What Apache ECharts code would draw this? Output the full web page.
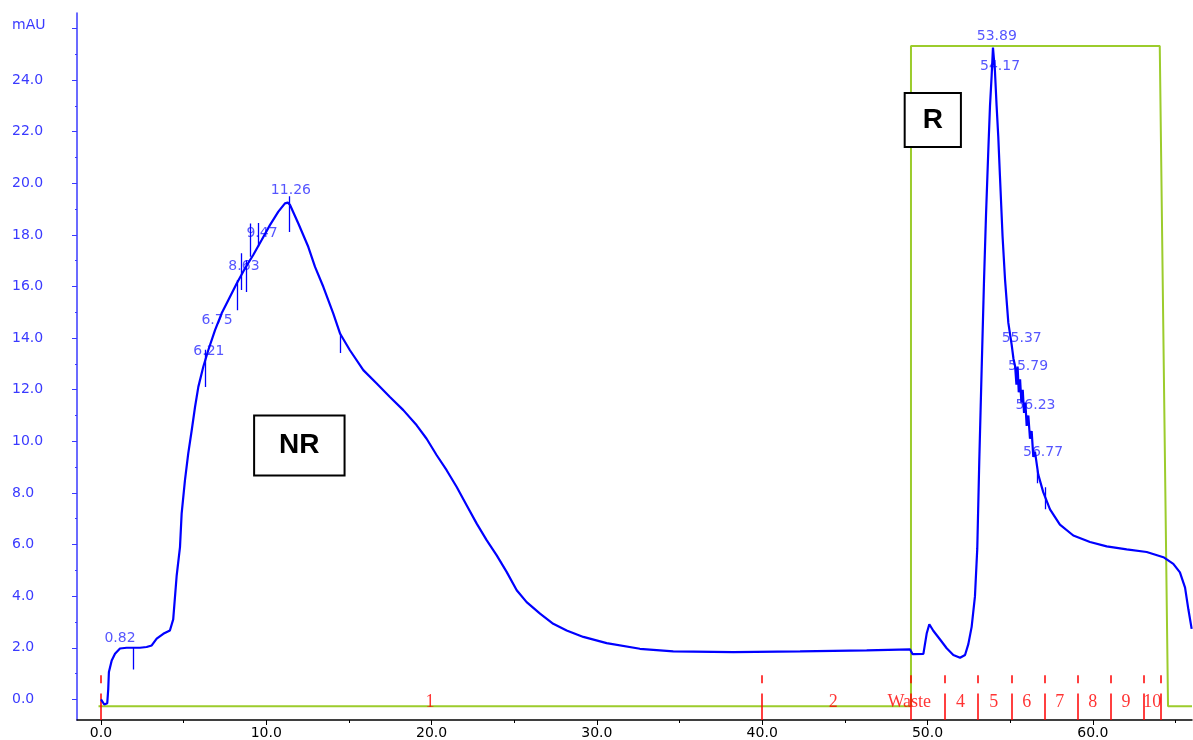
<!DOCTYPE html>
<html>
<head>
<meta charset="utf-8">
<script src="https://cdn.jsdelivr.net/npm/echarts@6/dist/echarts.min.js"></script>
<style>
html,body{margin:0;padding:0;background:#fff;}
#chart{width:1193px;height:740px;}
</style>
</head>
<body>
<div id="chart"></div>
<script>
// ---- Data ----
// Elution volume / time (x) and absorbance mAU (y) of the UV trace
const traceX = [0.0,0.2,0.38,0.44,0.48,0.65,0.85,1.15,1.55,2.36,2.76,3.07,3.37,3.77,4.17,4.37,4.58,4.78,4.88,5.08,5.28,5.49,5.69,5.89,6.19,6.49,6.9,7.3,7.7,8.21,8.71,9.21,9.72,10.22,10.73,11.13,11.3,11.43,11.94,12.54,12.95,13.45,14.05,14.46,15.06,15.87,16.68,17.48,18.29,19.1,19.7,20.31,20.91,21.52,22.12,22.73,23.33,23.94,24.54,25.15,25.75,26.56,27.36,28.17,29.18,30.59,32.6,34.62,38.25,42.29,46.32,48.94,49.1,49.75,49.95,50.11,50.35,50.76,51.16,51.56,51.97,52.27,52.47,52.67,52.87,53.01,53.13,53.28,53.42,53.54,53.68,53.78,53.88,53.96,54.08,54.18,54.28,54.38,54.54,54.69,54.89,55.09,55.2,55.3,55.38,55.45,55.52,55.6,55.68,55.76,55.84,55.92,56.0,56.1,56.2,56.3,56.4,56.5,56.7,57.0,57.41,58.01,58.82,59.83,60.84,62.05,63.26,64.27,64.87,65.27,65.58,65.78,65.98];
const traceY = [0.0,-0.2,-0.15,0.4,1.06,1.51,1.77,1.97,2.0,2.0,2.03,2.09,2.35,2.54,2.67,3.1,4.8,5.9,7.2,8.49,9.53,10.43,11.33,12.11,12.89,13.53,14.31,14.96,15.47,16.12,16.7,17.22,17.8,18.38,18.9,19.22,19.25,19.17,18.44,17.54,16.76,15.99,14.96,14.18,13.53,12.76,12.24,11.72,11.21,10.62,10.1,9.46,8.88,8.23,7.52,6.81,6.17,5.58,4.94,4.23,3.77,3.32,2.93,2.67,2.42,2.18,1.96,1.86,1.83,1.86,1.9,1.94,1.75,1.76,2.55,2.91,2.66,2.32,1.98,1.72,1.61,1.72,2.14,2.81,3.99,5.84,9.2,12.91,16.27,18.79,21.31,23.0,24.17,25.26,24.34,23.0,21.82,20.31,17.95,16.27,14.59,13.75,13.2,12.91,12.2,12.9,11.9,12.4,11.5,12.0,11.1,11.5,10.6,11.0,10.1,10.4,9.4,9.6,8.71,8.03,7.36,6.77,6.35,6.1,5.93,5.81,5.71,5.51,5.25,4.92,4.33,3.49,2.73];

// Green gradient / program trace (step)
const stepX = [-0.15,49.0,49.0,64.05,64.55,66.0];
const stepY = [-0.27,-0.27,25.32,25.32,-0.27,-0.27];

// Peak labels (text, x, y)
const peakText = ['0.82','6.21','6.75','8.63','9.47','11.26','53.89','54.17','55.37','55.79','56.23','56.77'];
const peakLabelX = [1.15,6.53,7.02,8.65,9.74,11.49,54.19,54.39,55.70,56.08,56.53,56.99];
const peakLabelY = [2.37,13.49,14.70,16.79,18.07,19.74,25.71,24.52,13.99,12.89,11.40,9.59];

// Peak marker ticks (x, yTop, yBottom)
const markX = [1.96,6.29,8.23,8.51,8.81,9.01,9.52,11.39,14.46,56.62,57.10];
const markTop = [2.0,13.55,16.25,17.29,17.02,18.44,18.46,19.5,14.19,8.88,8.22];
const markBot = [1.16,12.11,15.08,15.86,15.79,17.15,17.54,18.11,13.42,8.38,7.37];

// Fractions
const fractionEdges = [0,40.0,49.0,51.05,53.05,55.1,57.1,59.1,61.1,63.1,64.1];
const fractionNames = ['1','2','Waste','4','5','6','7','8','9','10'];
const fractionLabelX = [19.9,44.3,48.9,52.0,54.0,56.0,58.0,60.0,62.0,63.6];

// Region annotations
const regionNames = ['NR','R'];
const regionX = [12.0,50.32];
const regionY = [9.84,22.45];

// Axis ticks
const yLabelValues = [0,2,4,6,8,10,12,14,16,18,20,22,24,26];
const yMinorValues = [1,3,5,7,9,11,13,15,17,19,21,23,25];
const xLabelValues = [0,10,20,30,40,50,60];
const xMinorValues = [5,15,25,35,45,55,65];

// ---- Build ----
const X_MIN = -1.45, X_MAX = 66, Y_MIN = -0.8, Y_MAX = 26.6;
const blue = '#0000ff';
const axisBlue = '#3a3aff';
const red = '#ff0000';

const trace = traceX.map((x,i)=>[x,traceY[i]]);
const step = stepX.map((x,i)=>[x,stepY[i]]);
const peaks = peakText.map((t,i)=>({value:[peakLabelX[i],peakLabelY[i]], name:t}));
const marks = markX.map((x,i)=>({coords:[[x,markTop[i]],[x,markBot[i]]]}));
const fracLow = [], fracHigh = [];
fractionEdges.forEach(x=>{
  fracLow.push({coords:[[x,Y_MIN],[x,0.23]]});
  fracHigh.push({coords:[[x,0.62],[x,0.93]]});
});
const fracLabels = fractionNames.map((n,i)=>({value:[fractionLabelX[i],-0.12], name:n}));
const regionPadding = [[12,24,12,24],[9,17,9,17]];
const regions = regionNames.map((n,i)=>({value:[regionX[i],regionY[i]], name:n,
  label:{padding:regionPadding[i]}}));

const chart = echarts.init(document.getElementById('chart'), null, {renderer:'canvas'});
const baseFont = 'DejaVu Sans';
chart.setOption({
  animation:false,
  backgroundColor:'#fff',
  grid:{left:77,right:1,top:13,bottom:20,containLabel:false},
  xAxis:[{
    type:'value',min:X_MIN,max:X_MAX,
    axisLine:{show:true,onZero:false,lineStyle:{color:'#000',width:1.5}},
    axisTick:{show:true,length:5,customValues:xLabelValues,lineStyle:{color:'#000',width:1}},
    axisLabel:{show:true,customValues:xLabelValues,formatter:v=>v.toFixed(1),color:'#000',fontFamily:baseFont,fontSize:14,margin:6},
    splitLine:{show:false}
  },{
    type:'value',min:X_MIN,max:X_MAX,position:'bottom',
    axisLine:{show:false,onZero:false},
    axisTick:{show:true,length:3,customValues:xMinorValues,lineStyle:{color:'#000',width:1}},
    axisLabel:{show:false},
    splitLine:{show:false}
  }],
  yAxis:[{
    type:'value',min:Y_MIN,max:Y_MAX,
    axisLine:{show:true,onZero:false,lineStyle:{color:axisBlue,width:1.5}},
    axisTick:{show:true,length:5,customValues:yLabelValues,lineStyle:{color:axisBlue,width:1}},
    axisLabel:{show:true,customValues:yLabelValues,align:'left',margin:65,
      formatter:v=>(v===26?'{u|mAU}':v.toFixed(1)),
      color:axisBlue,fontFamily:baseFont,fontSize:14,
      rich:{u:{color:axisBlue,fontFamily:baseFont,fontSize:14,padding:[0,0,6,0]}}},
    splitLine:{show:false}
  },{
    type:'value',min:Y_MIN,max:Y_MAX,position:'left',
    axisLine:{show:false,onZero:false},
    axisTick:{show:true,length:2,customValues:yMinorValues,lineStyle:{color:axisBlue,width:1}},
    axisLabel:{show:false},
    splitLine:{show:false}
  }],
  series:[
    {type:'scatter',name:'peaklabels',z:1,data:peaks,symbolSize:0,silent:true,
      label:{show:true,position:'inside',formatter:p=>p.name,color:'#2b2bff',fontFamily:baseFont,fontSize:14}},
    {type:'line',name:'program',z:2,data:step,showSymbol:false,symbol:'none',
      lineStyle:{color:'#9ccc2c',width:2},silent:true},
    {type:'lines',name:'fracLow',coordinateSystem:'cartesian2d',z:3,data:fracLow,silent:true,
      lineStyle:{color:red,width:1.5,opacity:1}},
    {type:'lines',name:'fracHigh',coordinateSystem:'cartesian2d',z:3,data:fracHigh,silent:true,
      lineStyle:{color:red,width:1.5,opacity:1}},
    {type:'scatter',name:'fracLabels',z:3,data:fracLabels,symbolSize:0,silent:true,
      label:{show:true,position:'inside',formatter:p=>p.name,color:red,fontFamily:'Liberation Serif',fontSize:18}},
    {type:'lines',name:'marks',coordinateSystem:'cartesian2d',z:4,data:marks,silent:true,
      lineStyle:{color:blue,width:1.3,opacity:1}},
    {type:'line',name:'trace',z:5,data:trace,showSymbol:false,symbol:'none',
      lineStyle:{color:blue,width:2.2},silent:true},
    {type:'scatter',name:'regions',z:6,data:regions,symbolSize:0,silent:true,
      label:{show:true,position:'inside',formatter:p=>p.name,color:'#000',opacity:1,textBorderWidth:0,
        fontFamily:'Liberation Sans',fontSize:28,fontWeight:'bold',lineHeight:34,
        backgroundColor:'#fff',borderColor:'#000',borderWidth:2}}
  ]
});
</script>
</body>
</html>
